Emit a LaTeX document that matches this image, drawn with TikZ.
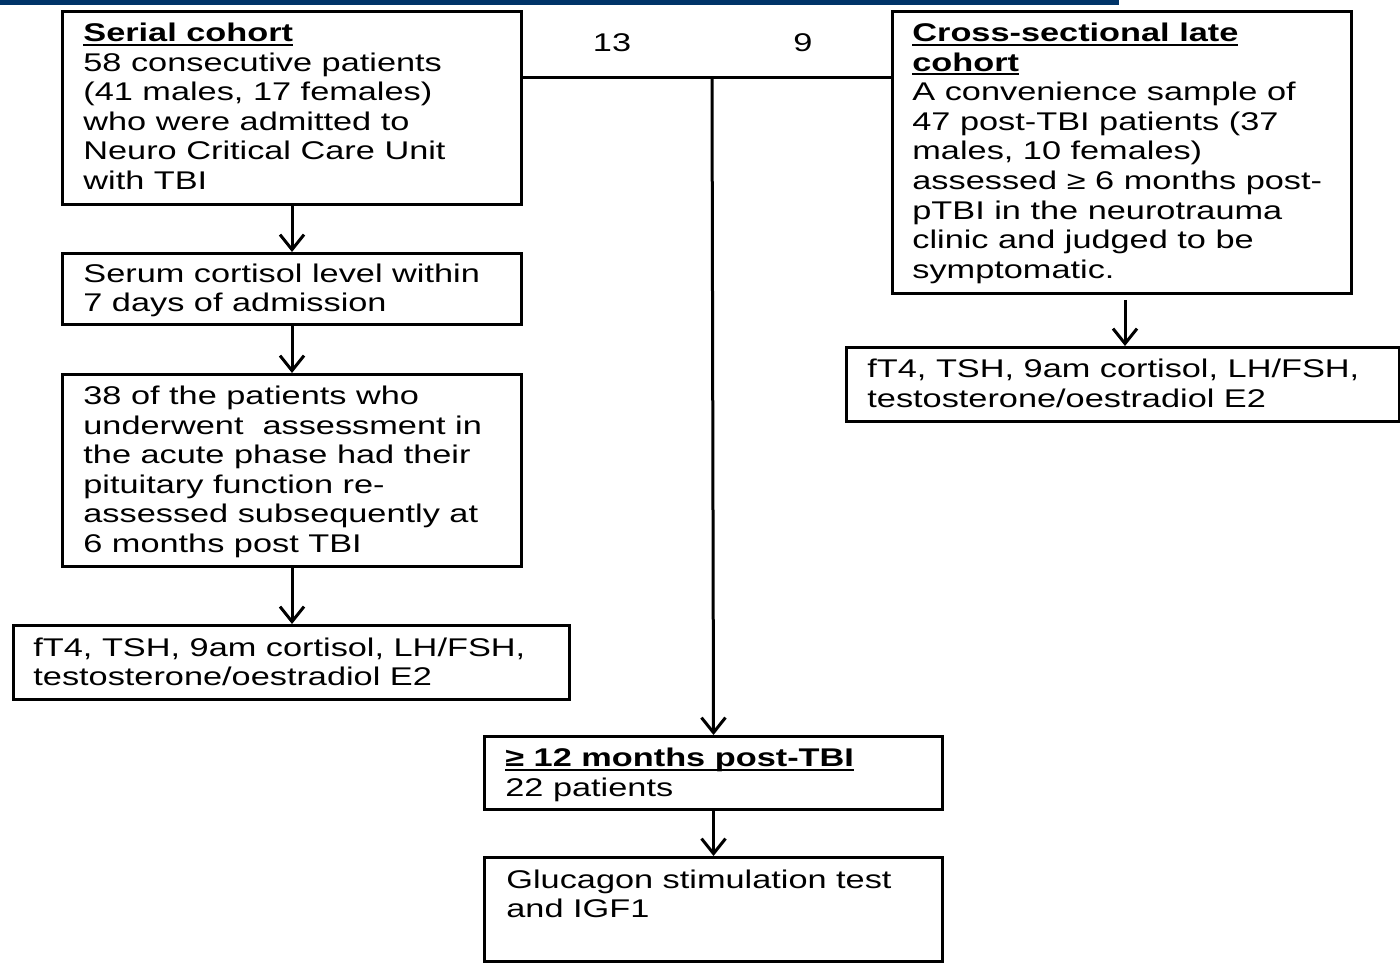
\documentclass[tikz,border=0pt]{standalone}
\usepackage{fontspec}
\setmainfont{Liberation Sans}[FakeStretch=1.34]
\usetikzlibrary{arrows.meta,calc}
\definecolor{barblue}{RGB}{0,52,104}
\newcommand\hdul[1]{\setbox0\hbox{#1}\rlap{\rule[-2.2pt]{\wd0}{1pt}}\box0}
\begin{document}
\begin{tikzpicture}[x=0.5pt,y=-0.5pt,
  box/.style={draw,line width=1.5pt,rectangle,inner sep=0pt,anchor=north west},
  txt/.style={anchor=north west,inner sep=0pt,align=left,font=\fontsize{12.8}{14.8}\selectfont},
  num/.style={inner sep=0pt,font=\fontsize{12.8}{14.8}\selectfont},
  arr/.style={line width=1.5pt,-{Straight Barb[length=7.5pt,width=12pt,line width=1.5pt]}},
  conn/.style={line width=1.5pt}]
\useasboundingbox (0,0) rectangle (1400,962);
\fill[barblue] (0,0) rectangle (1119,5);

% boxes
\node[box,minimum width=229.5pt,minimum height=96.5pt] (serial) at (61,10) {};
\node[box,minimum width=229.5pt,minimum height=35.5pt] (serum) at (61,252) {};
\node[box,minimum width=229.5pt,minimum height=96pt] (acute) at (61,373) {};
\node[box,minimum width=278pt,minimum height=37pt] (ftl) at (12,624) {};
\node[box,minimum width=229.5pt,minimum height=141pt] (cross) at (891,10) {};
\node[box,minimum width=276.5pt,minimum height=37pt] (ftr) at (845,346) {};
\node[box,minimum width=229pt,minimum height=36.5pt] (twelve) at (483,735) {};
\node[box,minimum width=229pt,minimum height=52pt] (gluc) at (483,856) {};

% texts
\node[txt] (serialtxt) at ($(serial.north west)+(22,10.3)$)
  {\strut\hdul{\textbf{Serial cohort}}\\58 consecutive patients\\(41 males, 17 females)\\who were admitted to\\Neuro Critical Care Unit\\with TBI};
\node[txt] (serumtxt) at ($(serum.north west)+(22,9)$)
  {\strut Serum cortisol level within\\7 days of admission};
\node[txt] (acutetxt) at ($(acute.north west)+(22,10.3)$)
  {\strut 38 of the patients who\\underwent\ \ assessment in\\the acute phase had their\\pituitary function re-\\assessed subsequently at\\6 months post TBI};
\node[txt] (ftltxt) at ($(ftl.north west)+(21,11)$)
  {\strut fT4, TSH, 9am cortisol, LH/FSH,\\testosterone/oestradiol E2};
\node[txt] (crosstxt) at ($(cross.north west)+(21,10.3)$)
  {\strut\hdul{\textbf{Cross-sectional late}}\\\hdul{\textbf{cohort}}\\A convenience sample of\\47 post-TBI patients (37\\males, 10 females)\\assessed \char"2265\ 6 months post-\\pTBI in the neurotrauma\\clinic and judged to be\\symptomatic.};
\node[txt] (ftrtxt) at ($(ftr.north west)+(22,10.3)$)
  {\strut fT4, TSH, 9am cortisol, LH/FSH,\\testosterone/oestradiol E2};
\node[txt] (twelvetxt) at ($(twelve.north west)+(22,10.3)$)
  {\strut\hdul{\textbf{\char"2265\ 12 months post-TBI}}\\22 patients};
\node[txt] (glucTxt) at ($(gluc.north west)+(23,11)$)
  {\strut Glucagon stimulation test\\and IGF1};

% numbers
\node[num] (n13) at (612,43) {13};
\node[num] (n9) at (803,43) {9};

% connectors
\coordinate (split) at (712,78);
\draw[conn] (serial.east |- split) -- (cross.west |- split);
\draw[arr] (split) -- (twelve.north);
\draw[arr] (serial.south) -- (serum.north);
\draw[arr] (serum.south) -- (acute.north);
\draw[arr] (acute.south) -- (ftl.north -| acute.south);
\coordinate (cstart) at (1125,300);
\draw[arr] (cstart) -- (cstart |- ftr.north);
\draw[arr] (twelve.south) -- (gluc.north);
\end{tikzpicture}
\end{document}
